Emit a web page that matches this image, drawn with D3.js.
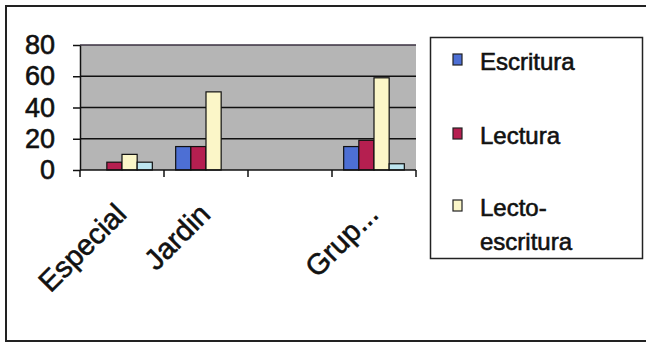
<!DOCTYPE html>
<html><head><meta charset="utf-8">
<script src="https://cdn.jsdelivr.net/npm/d3@7"></script>
<style>body{margin:0;background:#fff}svg{display:block}text{font-family:"Liberation Sans",Arial,sans-serif;fill:#111;stroke:#111;stroke-width:0.6px}</style>
</head><body>
<script>
const categories = ["Especial", "Jardin", "", "Grup..."];
const seriesNames = ["Escritura", "Lectura", "Lecto-escritura", "Otro"];
const escritura = [0, 15, 0, 15];
const lectura = [5, 15, 0, 19];
const lectoEscritura = [10, 50, 0, 59];
const otro = [5, 0, 0, 4];
const yTicks = [0, 20, 40, 60, 80];
const legendLabels = [["Escritura"], ["Lectura"], ["Lecto-", "escritura"]];

const values = [escritura, lectura, lectoEscritura, otro];
const colors = ["#4d6fd4", "#b51f50", "#fbf6c8", "#bde5f0"];

const W = 646, H = 343;
const svg = d3.select("body").append("svg").attr("width", W).attr("height", H);

// outer frame (no right edge)
svg.append("path").attr("d", `M${W},6 H6 V341 H${W}`).attr("fill", "none").attr("stroke", "#222").attr("stroke-width", 2);

const plot = {left: 80, right: 416, top: 45, bottom: 170};
const x0 = d3.scaleBand().domain(d3.range(categories.length)).range([plot.left, plot.right]).paddingInner(0).paddingOuter(0);
const bw = x0.bandwidth();
const pad = bw * 0.139;
const x1 = d3.scaleBand().domain(d3.range(seriesNames.length)).range([pad, bw - pad]);
const y = d3.scaleLinear().domain([0, 80]).range([plot.bottom, plot.top]);

// plot background
svg.append("rect").attr("x", plot.left).attr("y", plot.top).attr("width", plot.right - plot.left).attr("height", plot.bottom - plot.top).attr("fill", "#b5b5b5");

// gridlines
svg.append("g").selectAll("line").data(yTicks.filter(d => d > 0)).join("line")
  .attr("x1", plot.left).attr("x2", plot.right)
  .attr("y1", d => y(d)).attr("y2", d => y(d))
  .attr("stroke", d => d === 80 ? "#3a3040" : "#111").attr("stroke-width", 1.5);

// bars
const groups = svg.append("g").selectAll("g").data(categories.map((c, i) => i)).join("g")
  .attr("transform", i => `translate(${x0(i)},0)`);
groups.selectAll("rect").data(i => values.map((s, k) => ({k, v: s[i]}))).join("rect")
  .filter(d => d.v > 0)
  .attr("x", d => x1(d.k)).attr("width", x1.bandwidth())
  .attr("y", d => y(d.v)).attr("height", d => y(0) - y(d.v))
  .attr("fill", d => colors[d.k]).attr("stroke", "#111").attr("stroke-width", 1.2);

// y axis
const yAxis = svg.append("g").attr("transform", `translate(${plot.left},0)`)
  .call(d3.axisLeft(y).tickValues(yTicks).tickSize(7).tickPadding(18).tickSizeOuter(0));
yAxis.select(".domain").attr("stroke", "#111").attr("stroke-width", 1.5);
yAxis.selectAll(".tick line").attr("stroke", "#111").attr("stroke-width", 1.5);
yAxis.selectAll("text").attr("font-size", 27).attr("font-family", "Liberation Sans, Arial, sans-serif").attr("fill", "#111");

// x axis line and ticks at band boundaries
svg.append("line").attr("x1", plot.left).attr("x2", plot.right).attr("y1", y(0)).attr("y2", y(0)).attr("stroke", "#111").attr("stroke-width", 1.5);
const bounds = d3.range(categories.length + 1).map(i => i < categories.length ? x0(i) : x0(i - 1) + bw);
svg.append("g").selectAll("line").data(bounds).join("line")
  .attr("x1", d => d).attr("x2", d => d).attr("y1", y(0)).attr("y2", y(0) + 7)
  .attr("stroke", "#111").attr("stroke-width", 1.5);

// x labels
svg.append("g").selectAll("text").data(categories.map((c, i) => ({c, i}))).join("text")
  .attr("transform", d => `translate(${x0(d.i) + bw / 2 + 6},${216}) rotate(-45)`)
  .attr("text-anchor", "end").attr("font-size", 29).text(d => d.c);

// legend
const lg = svg.append("g");
lg.append("rect").attr("x", 430.5).attr("y", 37.5).attr("width", 212).attr("height", 221)
  .attr("fill", "#fff").attr("stroke", "#222").attr("stroke-width", 1.5);
const legendBase = [70, 144, 216];
legendLabels.forEach((lines, k) => {
  lg.append("rect").attr("x", 453).attr("y", legendBase[k] - 16).attr("width", 9).attr("height", 11)
    .attr("fill", colors[k]).attr("stroke", "#222").attr("stroke-width", 1.2);
  const t = lg.append("text").attr("x", 480).attr("y", legendBase[k]).attr("font-size", 24);
  lines.forEach((ln, j) => t.append("tspan").attr("x", 480).attr("dy", j === 0 ? 0 : 34).text(ln));
});
</script>
</body></html>
